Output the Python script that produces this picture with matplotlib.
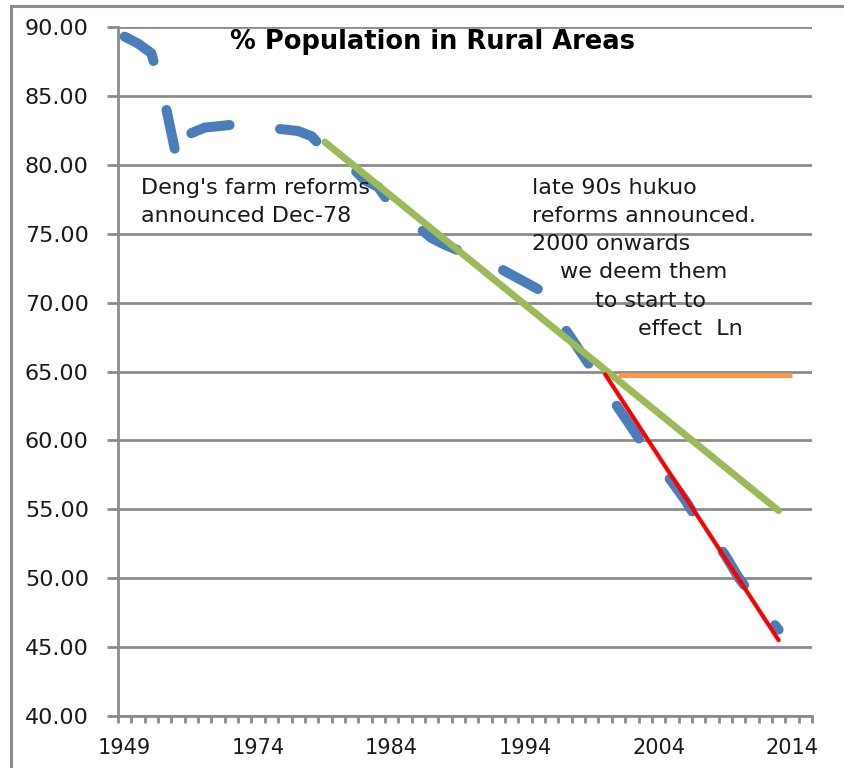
import matplotlib
matplotlib.use('Agg')
import matplotlib.pyplot as plt
from matplotlib.patches import Rectangle
import numpy as np

plt.rcParams['font.family'] = ['DejaVu Sans']
plt.rcParams['lines.scale_dashes'] = False

# category axis (Excel style): a few early years, then every year 1974-2015
years = ['1949', '1950', '1952', '1957', '1960', '1962', '1965', '1970', '1971', '1973'] + \
        [str(y) for y in range(1974, 2016)]
label_years = ['1949', '1974', '1984', '1994', '2004', '2014']

# % of population living in rural areas, 1949..2013
rural_pct = [89.3, 88.8, 88.1, 84.6, 80.0, 82.3, 82.7, 82.8, 82.9, 82.9,
             82.8, 82.66, 82.56, 82.45, 82.08, 81.04, 80.61, 79.84, 78.87, 78.38,
             76.99, 76.29, 75.48, 74.68, 74.19, 73.79, 73.59, 73.06, 72.54, 72.01,
             71.49, 70.96, 69.52, 68.09, 66.65, 65.22, 63.78, 62.34, 60.91, 59.47,
             58.24, 57.01, 55.66, 54.11, 53.01, 51.66, 50.05, 48.73, 47.43, 46.27]

# trend lines drawn on the chart
green_years = ['1979', '2013']
green_vals = [81.65, 54.9]
red_years = ['2000', '2013']
red_vals = [64.8, 45.5]
orange_years = ['2001', '2014']
orange_vals = [64.75, 64.75]

idx = {y: i for i, y in enumerate(years)}
grey = '#8c8c8c'
txt = '#1a1a1a'

fig = plt.figure(figsize=(8.44, 7.68), dpi=100)
ax = fig.add_axes([118/844, 1 - 716/768, (812 - 118)/844, (716 - 27)/768])

x_rural = np.arange(len(rural_pct))
ax.plot(x_rural, rural_pct, color='#4a7ebb', lw=7.2, ls=(0, (28.5, 36.5)),
        dash_capstyle='round', solid_joinstyle='round', zorder=3)
ax.plot([idx[y] for y in green_years], green_vals, color='#9bbb59', lw=5,
        solid_capstyle='round', zorder=4)
ax.plot([idx[y] for y in red_years], red_vals, color='#ff0000', lw=3,
        solid_capstyle='round', zorder=5)
ax.plot([idx[y] for y in orange_years], orange_vals, color='#f79646', lw=3.6,
        solid_capstyle='butt', zorder=4)

ax.set_xlim(-0.5, len(years) - 0.5)
ax.set_ylim(40, 90)
ax.set_yticks(np.arange(40, 91, 5))
ax.set_yticklabels(['%.2f' % v for v in np.arange(40, 91, 5)], fontsize=16, color=txt)
ax.set_xticks([idx[y] for y in label_years])
ax.set_xticklabels(label_years, fontsize=15, color=txt)
ax.set_xticks(np.arange(-0.5, len(years), 1), minor=True)

ax.tick_params(axis='y', length=8, width=2, color=grey, pad=13)
ax.tick_params(axis='x', which='major', length=0, pad=16)
ax.tick_params(axis='x', which='minor', length=5, width=2, color=grey)

ax.yaxis.grid(True, color=grey, lw=2)
ax.set_axisbelow(True)
for s in ['top', 'right']:
    ax.spines[s].set_visible(False)
for s in ['left', 'bottom']:
    ax.spines[s].set_color(grey)
    ax.spines[s].set_linewidth(2)

fig.text(433/844, 1 - 42/768, '% Population in Rural Areas', fontsize=18.5,
         fontweight='bold', ha='center', va='center')

fig.text(141/844, 1 - 188/768, "Deng's farm reforms", fontsize=16, va='center', color=txt)
fig.text(141/844, 1 - 216/768, 'announced Dec-78', fontsize=16, va='center', color=txt)

notes = [(532, 188, 'late 90s hukuo'),
         (532, 216, 'reforms announced.'),
         (532, 244, '2000 onwards'),
         (560, 272, 'we deem them'),
         (595, 301, 'to start to'),
         (638, 329, 'effect  Ln')]
for nx, ny, t in notes:
    fig.text(nx/844, 1 - ny/768, t, fontsize=16, va='center', color=txt)

# outer chart border (cropped on right and bottom)
fig.add_artist(Rectangle((11/844, -0.1), 1.2, 1.1 - 6/768, transform=fig.transFigure,
                         fill=False, ec=grey, lw=2.2, clip_on=False))

fig.savefig('out.png', dpi=100)
